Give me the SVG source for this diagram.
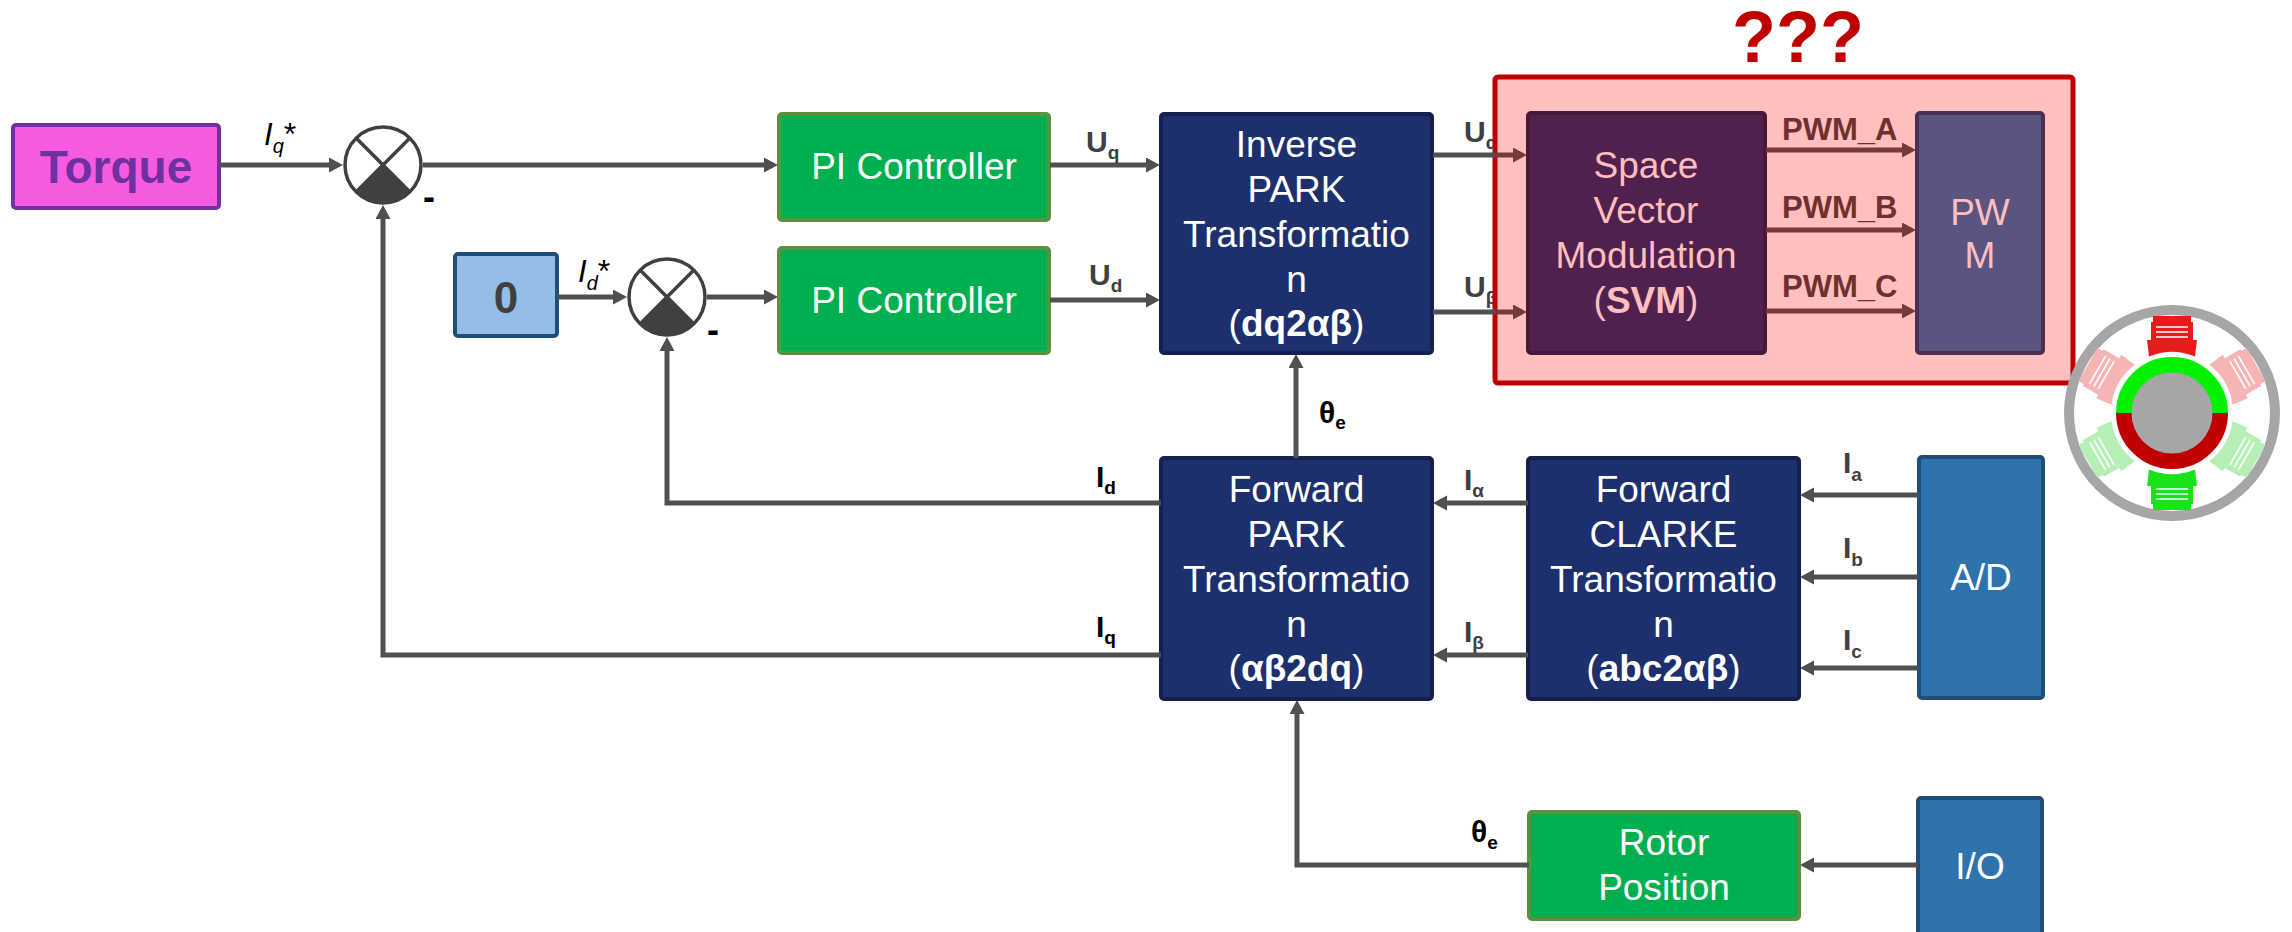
<svg xmlns="http://www.w3.org/2000/svg" width="2292" height="932" viewBox="0 0 2292 932">
  <style>
    text { font-family: "Liberation Sans", Arial, sans-serif; }
    .box-text { font-size: 37px; fill: #ffffff; text-anchor: middle; }
    .svm-text { font-size: 37px; fill: #FFBDBD; text-anchor: middle; }
    .navy { fill: #1D2F6C; stroke: #14204F; stroke-width: 4; }
    .green { fill: #00B050; stroke: #5B9240; stroke-width: 4; }
    .steel { fill: #2E72AE; stroke: #1F4E79; stroke-width: 4; }
    .wire { fill: none; stroke: #505050; stroke-width: 5; marker-end: url(#arrow); }
    .wire-plain { fill: none; stroke: #505050; stroke-width: 5; }
    .wire-red { fill: none; stroke: #763A3A; stroke-width: 5; marker-end: url(#arrow-red); }
    .sig { font-size: 30px; font-weight: bold; fill: #404040; }
    .sig-k { font-size: 30px; font-weight: bold; fill: #000000; }
    .sub { font-size: 19px; }
    .pwm-lbl { font-size: 31px; font-weight: bold; fill: #70302F; }
    .ref { font-size: 31px; font-style: italic; fill: #000000; }
  </style>
  <defs>
    <marker id="arrow" markerUnits="userSpaceOnUse" markerWidth="16" markerHeight="16" refX="9" refY="7.5" orient="auto">
      <path d="M0,0 L14,7.5 L0,15 Z" fill="#505050"/>
    </marker>
    <marker id="arrow-red" markerUnits="userSpaceOnUse" markerWidth="16" markerHeight="16" refX="9" refY="7.5" orient="auto">
      <path d="M0,0 L14,7.5 L0,15 Z" fill="#763A3A"/>
    </marker>
    <!-- summing junction: circle with X and filled lower sector (minus input) -->
    <g id="sum">
      <circle r="38" fill="#ffffff" stroke="#404040" stroke-width="3.5"/>
      <path d="M0,0 L26.9,26.9 A38,38 0 0 1 -26.9,26.9 Z" fill="#404040"/>
      <path d="M-26.9,-26.9 L26.9,26.9 M26.9,-26.9 L-26.9,26.9" stroke="#404040" stroke-width="3.5"/>
    </g>
    <!-- stator pole with winding, pointing up from motor centre -->
    <g id="pole">
      <rect x="-19" y="-97" width="38" height="7" fill="currentColor"/>
      <rect x="-21" y="-91" width="42" height="20" fill="currentColor"/>
      <path d="M-16,-86 H16 M-16,-81 H16 M-16,-76 H16" stroke="#ffffff" stroke-width="1.6"/>
      <path d="M-25,-73 L25,-73 L23,-56.5 A61,61 0 0 0 -23,-56.5 Z" fill="currentColor"/>
    </g>
  </defs>

  <rect width="2292" height="932" fill="#ffffff"/>

  <!-- voltage labels that sit partly under the modulator frame -->
  <g id="labels-under">
    <text class="sig" x="1464" y="142">U<tspan class="sub" dy="7">α</tspan></text>
    <text class="sig" x="1464" y="297">U<tspan class="sub" dy="7">β</tspan></text>
  </g>

  <!-- modulator frame -->
  <g id="modulator-frame">
    <rect x="1495" y="77" width="578" height="306" rx="3" fill="#FFBFBF" stroke="#C00000" stroke-width="5"/>
    <text x="1798" y="62" font-size="72" font-weight="bold" fill="#C00000" text-anchor="middle">???</text>
  </g>

  <!-- nodes -->
  <g id="torque">
    <rect x="13" y="125" width="206" height="83" rx="3" fill="#F55BE1" stroke="#7030A0" stroke-width="4"/>
    <text x="116" y="183" font-size="46" font-weight="bold" fill="#7030A0" text-anchor="middle">Torque</text>
  </g>
  <g id="sum-q" transform="translate(383,165)"><use href="#sum"/></g>
  <g id="zero">
    <rect x="455" y="254" width="102" height="82" rx="3" fill="#95BEE6" stroke="#1F4E79" stroke-width="4"/>
    <text x="506" y="313" font-size="44" font-weight="bold" fill="#404040" text-anchor="middle">0</text>
  </g>
  <g id="sum-d" transform="translate(667,297)"><use href="#sum"/></g>
  <g id="pi-q">
    <rect class="green" x="779" y="114" width="270" height="106" rx="3"/>
    <text class="box-text" x="914" y="179">PI Controller</text>
  </g>
  <g id="pi-d">
    <rect class="green" x="779" y="248" width="270" height="105" rx="3"/>
    <text class="box-text" x="914" y="313">PI Controller</text>
  </g>
  <g id="inverse-park">
    <rect class="navy" x="1161" y="114" width="271" height="239" rx="3"/>
    <text class="box-text" x="1296.5" y="157">Inverse</text>
    <text class="box-text" x="1296.5" y="202">PARK</text>
    <text class="box-text" x="1296.5" y="247">Transformatio</text>
    <text class="box-text" x="1296.5" y="292">n</text>
    <text class="box-text" x="1296.5" y="336">(<tspan font-weight="bold">dq2αβ</tspan>)</text>
  </g>
  <g id="svm">
    <rect x="1528" y="113" width="237" height="240" rx="3" fill="#50214E" stroke="#48183A" stroke-width="4"/>
    <text class="svm-text" x="1646" y="178">Space</text>
    <text class="svm-text" x="1646" y="223">Vector</text>
    <text class="svm-text" x="1646" y="268">Modulation</text>
    <text class="svm-text" x="1646" y="313">(<tspan font-weight="bold">SVM</tspan>)</text>
  </g>
  <g id="pwm">
    <rect x="1917" y="113" width="126" height="240" rx="3" fill="#5B5380" stroke="#4C2F52" stroke-width="4"/>
    <text class="svm-text" x="1980" y="225">PW</text>
    <text class="svm-text" x="1980" y="268">M</text>
  </g>
  <g id="forward-park">
    <rect class="navy" x="1161" y="458" width="271" height="241" rx="3"/>
    <text class="box-text" x="1296.5" y="502">Forward</text>
    <text class="box-text" x="1296.5" y="547">PARK</text>
    <text class="box-text" x="1296.5" y="592">Transformatio</text>
    <text class="box-text" x="1296.5" y="637">n</text>
    <text class="box-text" x="1296.5" y="681">(<tspan font-weight="bold">αβ2dq</tspan>)</text>
  </g>
  <g id="forward-clarke">
    <rect class="navy" x="1528" y="458" width="271" height="241" rx="3"/>
    <text class="box-text" x="1663.5" y="502">Forward</text>
    <text class="box-text" x="1663.5" y="547">CLARKE</text>
    <text class="box-text" x="1663.5" y="592">Transformatio</text>
    <text class="box-text" x="1663.5" y="637">n</text>
    <text class="box-text" x="1663.5" y="681">(<tspan font-weight="bold">abc2αβ</tspan>)</text>
  </g>
  <g id="adc">
    <rect class="steel" x="1919" y="457" width="124" height="241" rx="3"/>
    <text class="box-text" x="1981" y="590">A/D</text>
  </g>
  <g id="rotor-position">
    <rect class="green" x="1529" y="812" width="270" height="107" rx="3"/>
    <text class="box-text" x="1664" y="855">Rotor</text>
    <text class="box-text" x="1664" y="900">Position</text>
  </g>
  <g id="io">
    <rect class="steel" x="1918" y="798" width="124" height="140" rx="3"/>
    <text class="box-text" x="1980" y="879">I/O</text>
  </g>

  <!-- motor cross-section -->
  <g id="motor" transform="translate(2172,413)">
    <circle r="103" fill="#ffffff" stroke="#A6A6A6" stroke-width="10"/>
    <use href="#pole" color="#E81B1B"/>
    <use href="#pole" color="#F5B5B5" transform="rotate(60)"/>
    <use href="#pole" color="#B5EFB5" transform="rotate(120)"/>
    <use href="#pole" color="#1AE21A" transform="rotate(180)"/>
    <use href="#pole" color="#B5EFB5" transform="rotate(240)"/>
    <use href="#pole" color="#F5B5B5" transform="rotate(300)"/>
    <path d="M-48,0 A48,48 0 0 1 48,0" fill="none" stroke="#00F000" stroke-width="16"/>
    <path d="M48,0 A48,48 0 0 1 -48,0" fill="none" stroke="#C00000" stroke-width="16"/>
    <circle r="40.5" fill="#A6A6A6"/>
  </g>

  <!-- connectors -->
  <g id="connectors">
    <path class="wire" d="M219,165 H338"/>
    <path class="wire" d="M423,165 H773"/>
    <path class="wire" d="M1050,165 H1155"/>
    <path class="wire" d="M557,297 H622"/>
    <path class="wire" d="M707,297 H773"/>
    <path class="wire" d="M1050,300 H1155"/>
    <path class="wire-plain" d="M1433,155 H1495"/>
    <path class="wire-red" d="M1495,155 H1522"/>
    <path class="wire-plain" d="M1433,312 H1495"/>
    <path class="wire-red" d="M1495,312 H1522"/>
    <path class="wire-red" d="M1766,150 H1911"/>
    <path class="wire-red" d="M1766,230 H1911"/>
    <path class="wire-red" d="M1766,311 H1911"/>
    <path class="wire" d="M1296,458 V359"/>
    <path class="wire" d="M1161,503 H667 V342"/>
    <path class="wire" d="M1161,655 H383 V210"/>
    <path class="wire" d="M1528,503 H1438"/>
    <path class="wire" d="M1528,655 H1438"/>
    <path class="wire" d="M1919,495 H1805"/>
    <path class="wire" d="M1919,577 H1805"/>
    <path class="wire" d="M1919,668 H1805"/>
    <path class="wire" d="M1529,865 H1297 V705"/>
    <path class="wire" d="M1918,865 H1805"/>
  </g>

  <!-- signal labels -->
  <g id="labels">
    <text class="ref" x="264" y="145">I<tspan font-size="20" dy="8">q</tspan><tspan font-size="32" font-style="normal" dy="-8">*</tspan></text>
    <text font-size="36" font-weight="bold" fill="#000000" x="423" y="209">-</text>
    <text class="ref" x="578" y="282">I<tspan font-size="20" dy="8">d</tspan><tspan font-size="32" font-style="normal" dy="-8">*</tspan></text>
    <text font-size="36" font-weight="bold" fill="#000000" x="707" y="342">-</text>
    <text class="sig" x="1086" y="152">U<tspan class="sub" dy="7">q</tspan></text>
    <text class="sig" x="1089" y="285">U<tspan class="sub" dy="7">d</tspan></text>
    <text class="pwm-lbl" x="1782" y="140">PWM_A</text>
    <text class="pwm-lbl" x="1782" y="218">PWM_B</text>
    <text class="pwm-lbl" x="1782" y="297">PWM_C</text>
    <text class="sig-k" x="1319" y="423" font-size="26">θ<tspan class="sub" dy="6">e</tspan></text>
    <text class="sig-k" x="1096" y="487">I<tspan class="sub" dy="7">d</tspan></text>
    <text class="sig-k" x="1096" y="637">I<tspan class="sub" dy="7">q</tspan></text>
    <text class="sig" x="1464" y="490">I<tspan class="sub" dy="7">α</tspan></text>
    <text class="sig" x="1464" y="642">I<tspan class="sub" dy="7">β</tspan></text>
    <text class="sig" x="1843" y="473">I<tspan class="sub" dy="8">a</tspan></text>
    <text class="sig" x="1843" y="558">I<tspan class="sub" dy="8">b</tspan></text>
    <text class="sig" x="1843" y="650">I<tspan class="sub" dy="8">c</tspan></text>
    <text class="sig-k" x="1471" y="842">θ<tspan class="sub" dy="7">e</tspan></text>
  </g>
</svg>
